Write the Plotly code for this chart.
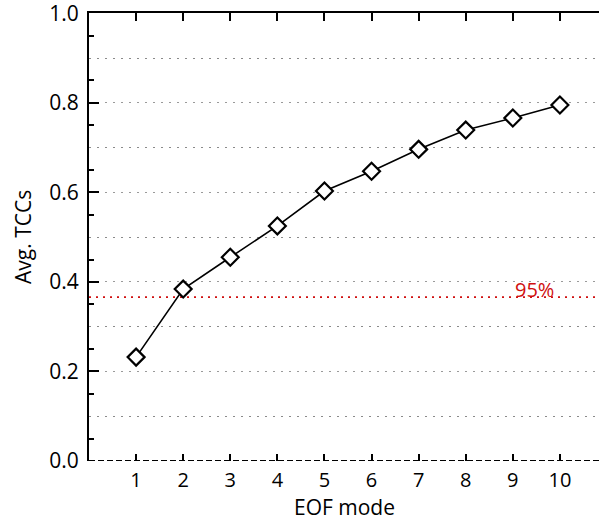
import plotly.graph_objects as go

modes = [1, 2, 3, 4, 5, 6, 7, 8, 9, 10]
avg_tcc = [0.232, 0.384, 0.455, 0.525, 0.603, 0.647, 0.696, 0.739, 0.766, 0.795]
threshold = 0.366
threshold_label = "95%"
y_major = [0.0, 0.2, 0.4, 0.6, 0.8, 1.0]
y_major_text = ["0.0", "0.2", "0.4", "0.6", "0.8", "1.0"]
y_odd_grid = [0.1, 0.3, 0.5, 0.7, 0.9]

FONT = "Open Sans"
XMAX = 10.83
YR = [0, 1.0005]

fig = go.Figure()
fig.add_trace(go.Scatter(
    x=modes, y=avg_tcc, mode="lines+markers",
    line=dict(color="black", width=1.6),
    marker=dict(symbol="diamond", size=13, color="white",
                line=dict(color="black", width=2.2)),
    showlegend=False, cliponaxis=False,
))
fig.add_trace(go.Scatter(x=[1], y=[0.5], xaxis="x2", yaxis="y2", mode="markers",
                         marker=dict(opacity=0), showlegend=False, hoverinfo="skip"))

fig.add_shape(type="line", xref="x", yref="y", x0=0, x1=XMAX, y0=threshold, y1=threshold,
              line=dict(color="#d01010", width=1.8, dash="2px,5px"), layer="below")
fig.add_annotation(x=9.47, y=threshold + 0.017, xref="x", yref="y", text=threshold_label,
                   showarrow=False, font=dict(family=FONT, size=20, color="#d01010"))
fig.add_shape(type="line", xref="x", yref="y", x0=0, x1=XMAX, y0=0, y1=0,
              line=dict(color="black", width=2, dash="6px,3px"))
fig.add_annotation(x=(344 - 89) / 510, y=(461 - 507) / 448, xref="paper", yref="paper",
                   text="EOF mode", showarrow=False,
                   font=dict(family=FONT, size=21, color="black"), yanchor="middle")
fig.add_annotation(x=(23 - 89) / 510, y=0.5, xref="paper", yref="paper",
                   text="Avg. TCCs", showarrow=False, textangle=-90,
                   font=dict(family=FONT, size=21, color="black"),
                   xanchor="center", yanchor="middle")

fig.update_layout(
    width=599, height=520,
    margin=dict(l=89, r=0, t=13, b=59),
    plot_bgcolor="white", paper_bgcolor="white",
    font=dict(family=FONT, size=20, color="black"),
    xaxis=dict(range=[0, XMAX], tickvals=modes, ticks="inside", ticklen=7, tickwidth=1.5,
               tickcolor="black", showgrid=False, zeroline=False, showline=False,
               tickfont=dict(size=20), ticklabelstandoff=5),
    xaxis2=dict(range=[0, XMAX], overlaying="x", side="top", tickvals=modes,
                ticks="inside", ticklen=8, tickwidth=1.5, tickcolor="black",
                showticklabels=False, showgrid=False, zeroline=False,
                showline=True, linecolor="black", linewidth=2),
    yaxis=dict(range=YR, tickvals=y_major, ticktext=y_major_text, ticks="inside",
               ticklen=10, tickwidth=1.5, tickcolor="black",
               showgrid=True, gridcolor="#9a9a9a", gridwidth=1, griddash="2px,6px",
               zeroline=False, showline=True, linecolor="black", linewidth=2,
               minor=dict(tick0=0.05, dtick=0.1, ticks="inside", ticklen=5,
                          tickwidth=1.5, tickcolor="black", showgrid=False),
               tickfont=dict(size=21), ticklabelstandoff=4,
               ticklabeloverflow="allow"),
    yaxis2=dict(range=YR, overlaying="y", tickvals=y_odd_grid, showticklabels=False,
                ticks="", showgrid=True, gridcolor="#8a8a8a", gridwidth=1,
                griddash="2px,6px", zeroline=False, showline=False),
)

fig.write_html("out.html")
